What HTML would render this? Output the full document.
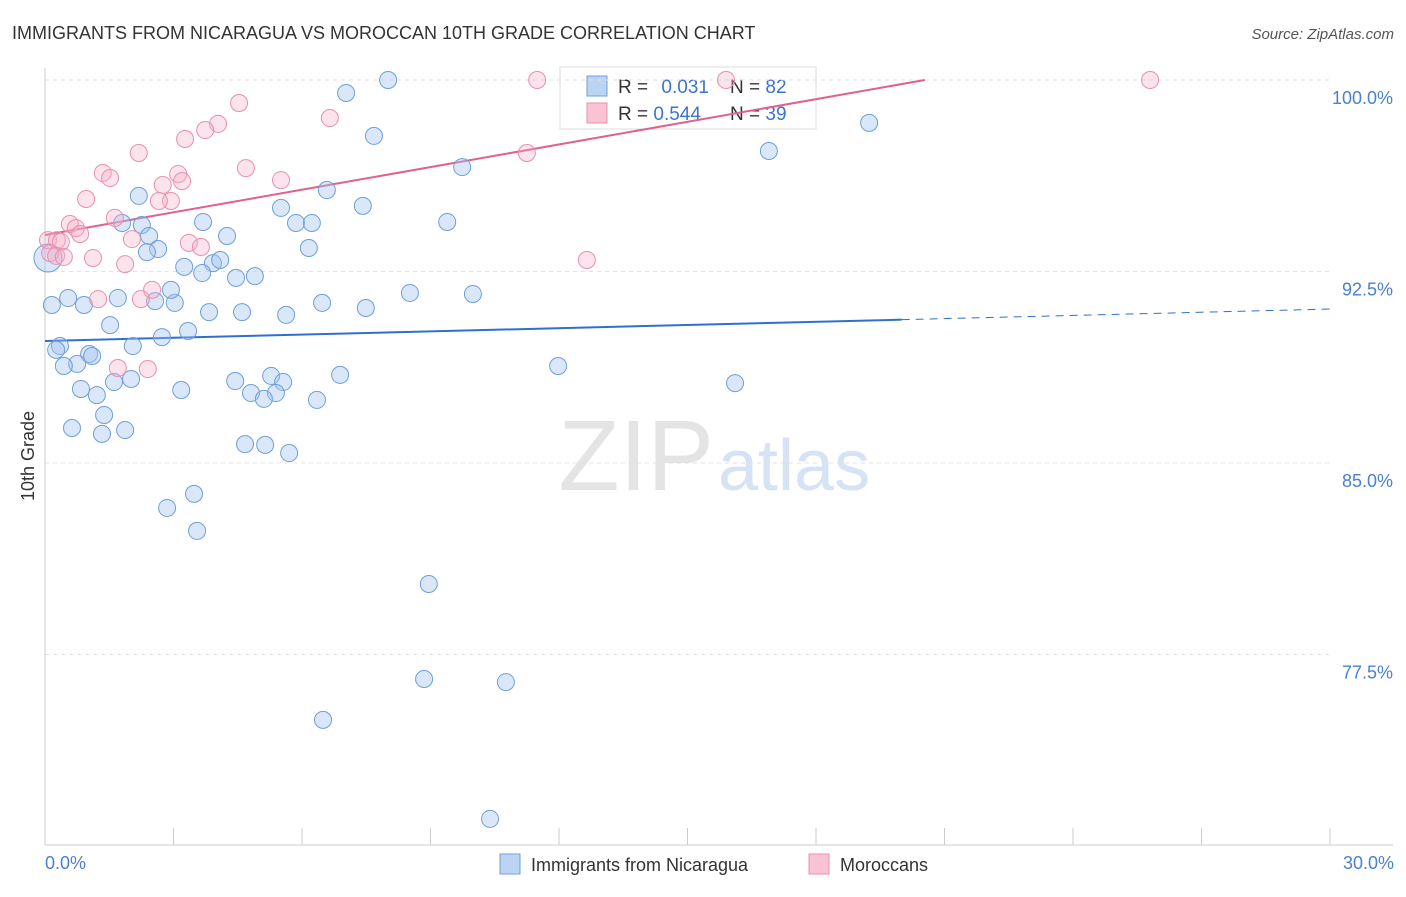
<!DOCTYPE html>
<html><head><meta charset="utf-8"><style>
body{margin:0;background:#fff;font-family:"Liberation Sans",sans-serif;}
svg text{font-family:"Liberation Sans",sans-serif;}
</style></head><body>
<svg id="chart" width="1406" height="892">
<text x="12" y="39" font-size="18" fill="#333">IMMIGRANTS FROM NICARAGUA VS MOROCCAN 10TH GRADE CORRELATION CHART</text>
<text x="1394" y="39" font-size="15" fill="#555" font-style="italic" text-anchor="end">Source: ZipAtlas.com</text>
<text x="714" y="490" font-size="100" fill="#e4e4e4" text-anchor="end" font-family="Liberation Serif">ZIP</text>
<text x="718" y="490" font-size="72" fill="#d6e3f5">atlas</text>
<g>
<rect x="560" y="67" width="256" height="62" fill="#fff" stroke="#ddd"/>
<rect x="587" y="76" width="20" height="20" fill="#bcd4f3" stroke="#6e9fd8"/>
<rect x="587" y="103" width="20" height="20" fill="#f9c3d3" stroke="#e890ad"/>
<text x="618" y="93" font-size="19" fill="#333">R = <tspan fill="#3a74d0" dx="8">0.031</tspan></text>
<text x="730" y="93" font-size="19" fill="#333">N = <tspan fill="#3a74d0">82</tspan></text>
<text x="618" y="120" font-size="19" fill="#333">R = <tspan fill="#3a74d0">0.544</tspan></text>
<text x="730" y="120" font-size="19" fill="#333">N = <tspan fill="#3a74d0">39</tspan></text>
</g>
<g id="grid"></g><g id="axes"></g><g id="trend"></g><g id="pts"></g>
<text transform="translate(34,456) rotate(-90)" font-size="18" fill="#333" text-anchor="middle">10th Grade</text>
<text x="45" y="869" font-size="18" fill="#4a7fd4">0.0%</text>
<text x="1394" y="869" font-size="18" fill="#4a7fd4" text-anchor="end">30.0%</text>
<g>
<rect x="500" y="854" width="20" height="20" fill="#bcd4f3" stroke="#6e9fd8"/>
<text x="531" y="871" font-size="18" fill="#333">Immigrants from Nicaragua</text></g>
<g>
<rect x="809" y="854" width="20" height="20" fill="#f9c3d3" stroke="#e890ad"/>
<text x="840" y="871" font-size="18" fill="#333">Moroccans</text></g>
</svg>
<script>
const yTicks=[100,92.5,85,77.5];
const yTickLabels=["100.0%","92.5%","85.0%","77.5%"];
const xTicks=[0,3,6,9,12,15,18,21,24,27,30];
const blueX=[8.01,7.03,7.68,19.24,16.90,9.74,2.19,6.58,7.42,5.51,9.39,1.80,2.26,3.69,5.86,6.23,2.43,4.25,2.64,2.38,6.16,3.25,3.92,4.09,3.67,4.46,4.90,0.54,0.16,0.91,1.70,2.57,3.03,2.94,6.47,8.52,9.99,7.49,3.83,4.60,5.63,1.52,3.34,2.73,0.35,0.26,2.05,1.03,1.10,0.75,0.44,11.98,6.89,5.28,5.56,2.01,1.61,4.44,3.18,0.84,1.21,4.81,5.39,5.11,6.35,16.11,1.38,0.63,1.87,1.33,4.67,5.14,5.70,3.48,2.85,3.55,8.96,8.85,10.76,6.49,10.39,0.07];
const blueY=[100.0,99.49,97.81,98.32,97.22,96.59,95.46,95.69,95.07,94.99,94.44,94.40,94.32,94.44,94.40,94.40,93.89,93.89,93.38,93.26,93.42,92.68,92.83,92.95,92.44,92.25,92.32,91.46,91.19,91.19,91.46,91.34,91.27,91.78,91.27,91.66,91.62,91.07,90.91,90.91,90.80,90.40,90.17,89.93,89.58,89.43,89.58,89.27,89.19,88.88,88.80,88.80,88.45,88.41,88.17,88.29,88.17,88.21,87.86,87.90,87.66,87.74,87.74,87.51,87.47,88.13,86.88,86.37,86.29,86.14,85.74,85.71,85.39,83.79,83.24,82.34,80.26,76.54,76.42,74.94,71.06,93.03];
const pinkX=[11.49,15.90,25.80,4.53,6.65,4.04,3.74,3.27,2.19,11.25,1.35,1.52,4.69,3.11,3.20,5.51,2.75,0.96,2.94,2.66,1.63,0.58,0.72,0.82,2.03,0.07,0.28,0.37,3.36,3.64,0.12,0.26,0.44,1.12,1.87,12.65,2.50,1.24,2.24,1.70,2.40];
const pinkY=[100,100,100,99.10,98.51,98.28,98.04,97.69,97.14,97.14,96.36,96.16,96.55,96.32,96.04,96.08,95.89,95.34,95.26,95.26,94.60,94.36,94.20,93.97,93.77,93.73,93.73,93.66,93.62,93.46,93.22,93.11,93.07,93.03,92.79,92.95,91.78,91.42,91.42,88.72,88.68];
const blueTrend=[89.78,91.03];
const pinkTrend=[93.93,0.2955];
const NS="http://www.w3.org/2000/svg";
const X=v=>45+v/30*1285, Y=v=>80+(100-v)/7.5*191.5;
function mk(tag,attrs,parent){const e=document.createElementNS(NS,tag);for(const k in attrs)e.setAttribute(k,attrs[k]);document.getElementById(parent).appendChild(e);return e;}
yTicks.forEach((t,i)=>{
 const l=mk('line',{x1:45,x2:1330,y1:Y(t),y2:Y(t),stroke:'#e2e2e2','stroke-dasharray':'4,4'},'grid');
 
 
 const tx=mk('text',{x:1393,y:Y(t)+24,'font-size':18,fill:'#4a7fd4','text-anchor':'end'},'grid');
 tx.textContent=yTickLabels[i];
 
 
});
const ya=mk('line',{x1:45,x2:45,y1:68,y2:845,stroke:'#ccc'},'axes');


const xa=mk('line',{x1:45,x2:1393,y1:845,y2:845,stroke:'#ccc'},'axes');


xTicks.forEach(t=>{const e=mk('line',{x1:X(t),x2:X(t),y1:828,y2:845,stroke:'#ccc'},'axes');
 
 });
function bt(x){return blueTrend[0]+(blueTrend[1]-blueTrend[0])*x/30;}
const b1=mk('line',{x1:X(0),y1:Y(bt(0)),x2:X(20),y2:Y(bt(20)),stroke:'#2f6fd0','stroke-width':2},'trend');


const b2=mk('line',{x1:X(20),y1:Y(bt(20)),x2:X(30),y2:Y(bt(30)),stroke:'#2f6fd0','stroke-width':1,'stroke-dasharray':'8,6'},'trend');


const xe=(100-pinkTrend[0])/pinkTrend[1];
const p1=mk('line',{x1:X(0),y1:Y(pinkTrend[0]),x2:X(xe),y2:Y(100),stroke:'#e0608e','stroke-width':2},'trend');


blueX.forEach((x,i)=>{const c=mk('circle',{cx:X(x),cy:Y(blueY[i]),r:i==blueX.length-1?14:8.5,fill:'rgba(160,195,240,0.4)',stroke:'#6e9fd8','stroke-width':1},'pts');
 
 });
pinkX.forEach((x,i)=>{const c=mk('circle',{cx:X(x),cy:Y(pinkY[i]),r:8.5,fill:'rgba(245,175,200,0.35)',stroke:'#e890ad','stroke-width':1},'pts');
 
 });
</script>
</body></html>
